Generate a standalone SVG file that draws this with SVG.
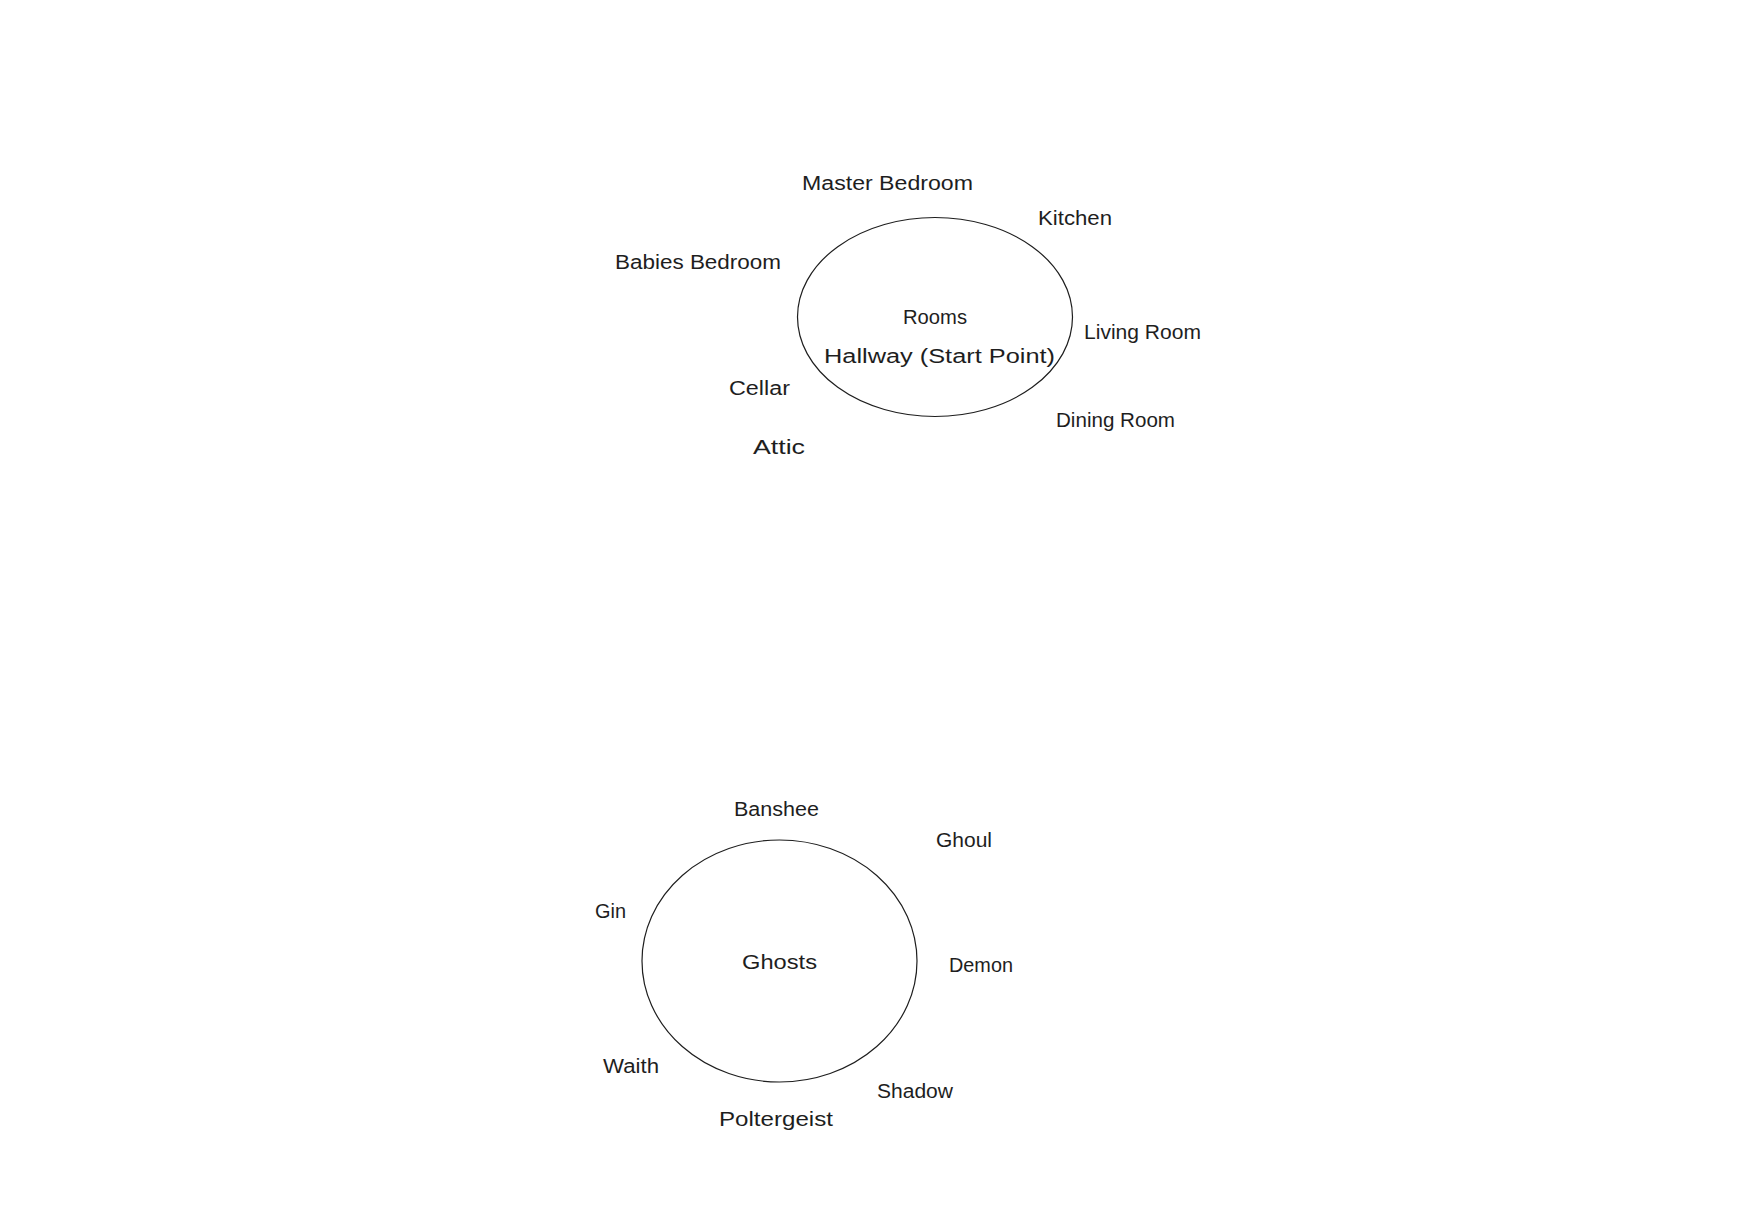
<svg xmlns="http://www.w3.org/2000/svg" width="1747" height="1214" viewBox="0 0 1747 1214">
<style>
.bg{fill:#ffffff}
.shape{fill:none;stroke:#1e1e1e;stroke-width:1.2}
.lbl{font-family:"Liberation Sans","DejaVu Sans",sans-serif;font-size:20px;fill:#1e1e1e}
</style>
<rect class="bg" x="0" y="0" width="1747" height="1214"/>
<g id="connectors"></g>
<g id="rooms">
<ellipse class="shape" cx="935" cy="317" rx="137.5" ry="99.5"/>
<text class="lbl" x="903" y="324" textLength="64" lengthAdjust="spacingAndGlyphs">Rooms</text>
<text class="lbl" x="824" y="363" textLength="231" lengthAdjust="spacingAndGlyphs">Hallway (Start Point)</text>
</g>
<g id="master-bedroom"><text class="lbl" x="802" y="190" textLength="171" lengthAdjust="spacingAndGlyphs">Master Bedroom</text></g>
<g id="kitchen"><text class="lbl" x="1038" y="225" textLength="74" lengthAdjust="spacingAndGlyphs">Kitchen</text></g>
<g id="babies-bedroom"><text class="lbl" x="615" y="269" textLength="166" lengthAdjust="spacingAndGlyphs">Babies Bedroom</text></g>
<g id="living-room"><text class="lbl" x="1084" y="339" textLength="117" lengthAdjust="spacingAndGlyphs">Living Room</text></g>
<g id="cellar"><text class="lbl" x="729" y="395" textLength="61" lengthAdjust="spacingAndGlyphs">Cellar</text></g>
<g id="dining-room"><text class="lbl" x="1056" y="427" textLength="119" lengthAdjust="spacingAndGlyphs">Dining Room</text></g>
<g id="attic"><text class="lbl" x="753" y="454" textLength="52" lengthAdjust="spacingAndGlyphs">Attic</text></g>
<g id="ghosts">
<ellipse class="shape" cx="779.5" cy="961" rx="137.5" ry="121"/>
<text class="lbl" x="742" y="969" textLength="75" lengthAdjust="spacingAndGlyphs">Ghosts</text>
</g>
<g id="banshee"><text class="lbl" x="734" y="816" textLength="85" lengthAdjust="spacingAndGlyphs">Banshee</text></g>
<g id="ghoul"><text class="lbl" x="936" y="847" textLength="56" lengthAdjust="spacingAndGlyphs">Ghoul</text></g>
<g id="gin"><text class="lbl" x="595" y="918" textLength="31" lengthAdjust="spacingAndGlyphs">Gin</text></g>
<g id="demon"><text class="lbl" x="949" y="972" textLength="64" lengthAdjust="spacingAndGlyphs">Demon</text></g>
<g id="waith"><text class="lbl" x="603" y="1073" textLength="56" lengthAdjust="spacingAndGlyphs">Waith</text></g>
<g id="shadow"><text class="lbl" x="877" y="1098" textLength="76" lengthAdjust="spacingAndGlyphs">Shadow</text></g>
<g id="poltergeist"><text class="lbl" x="719" y="1126" textLength="114" lengthAdjust="spacingAndGlyphs">Poltergeist</text></g>
</svg>
